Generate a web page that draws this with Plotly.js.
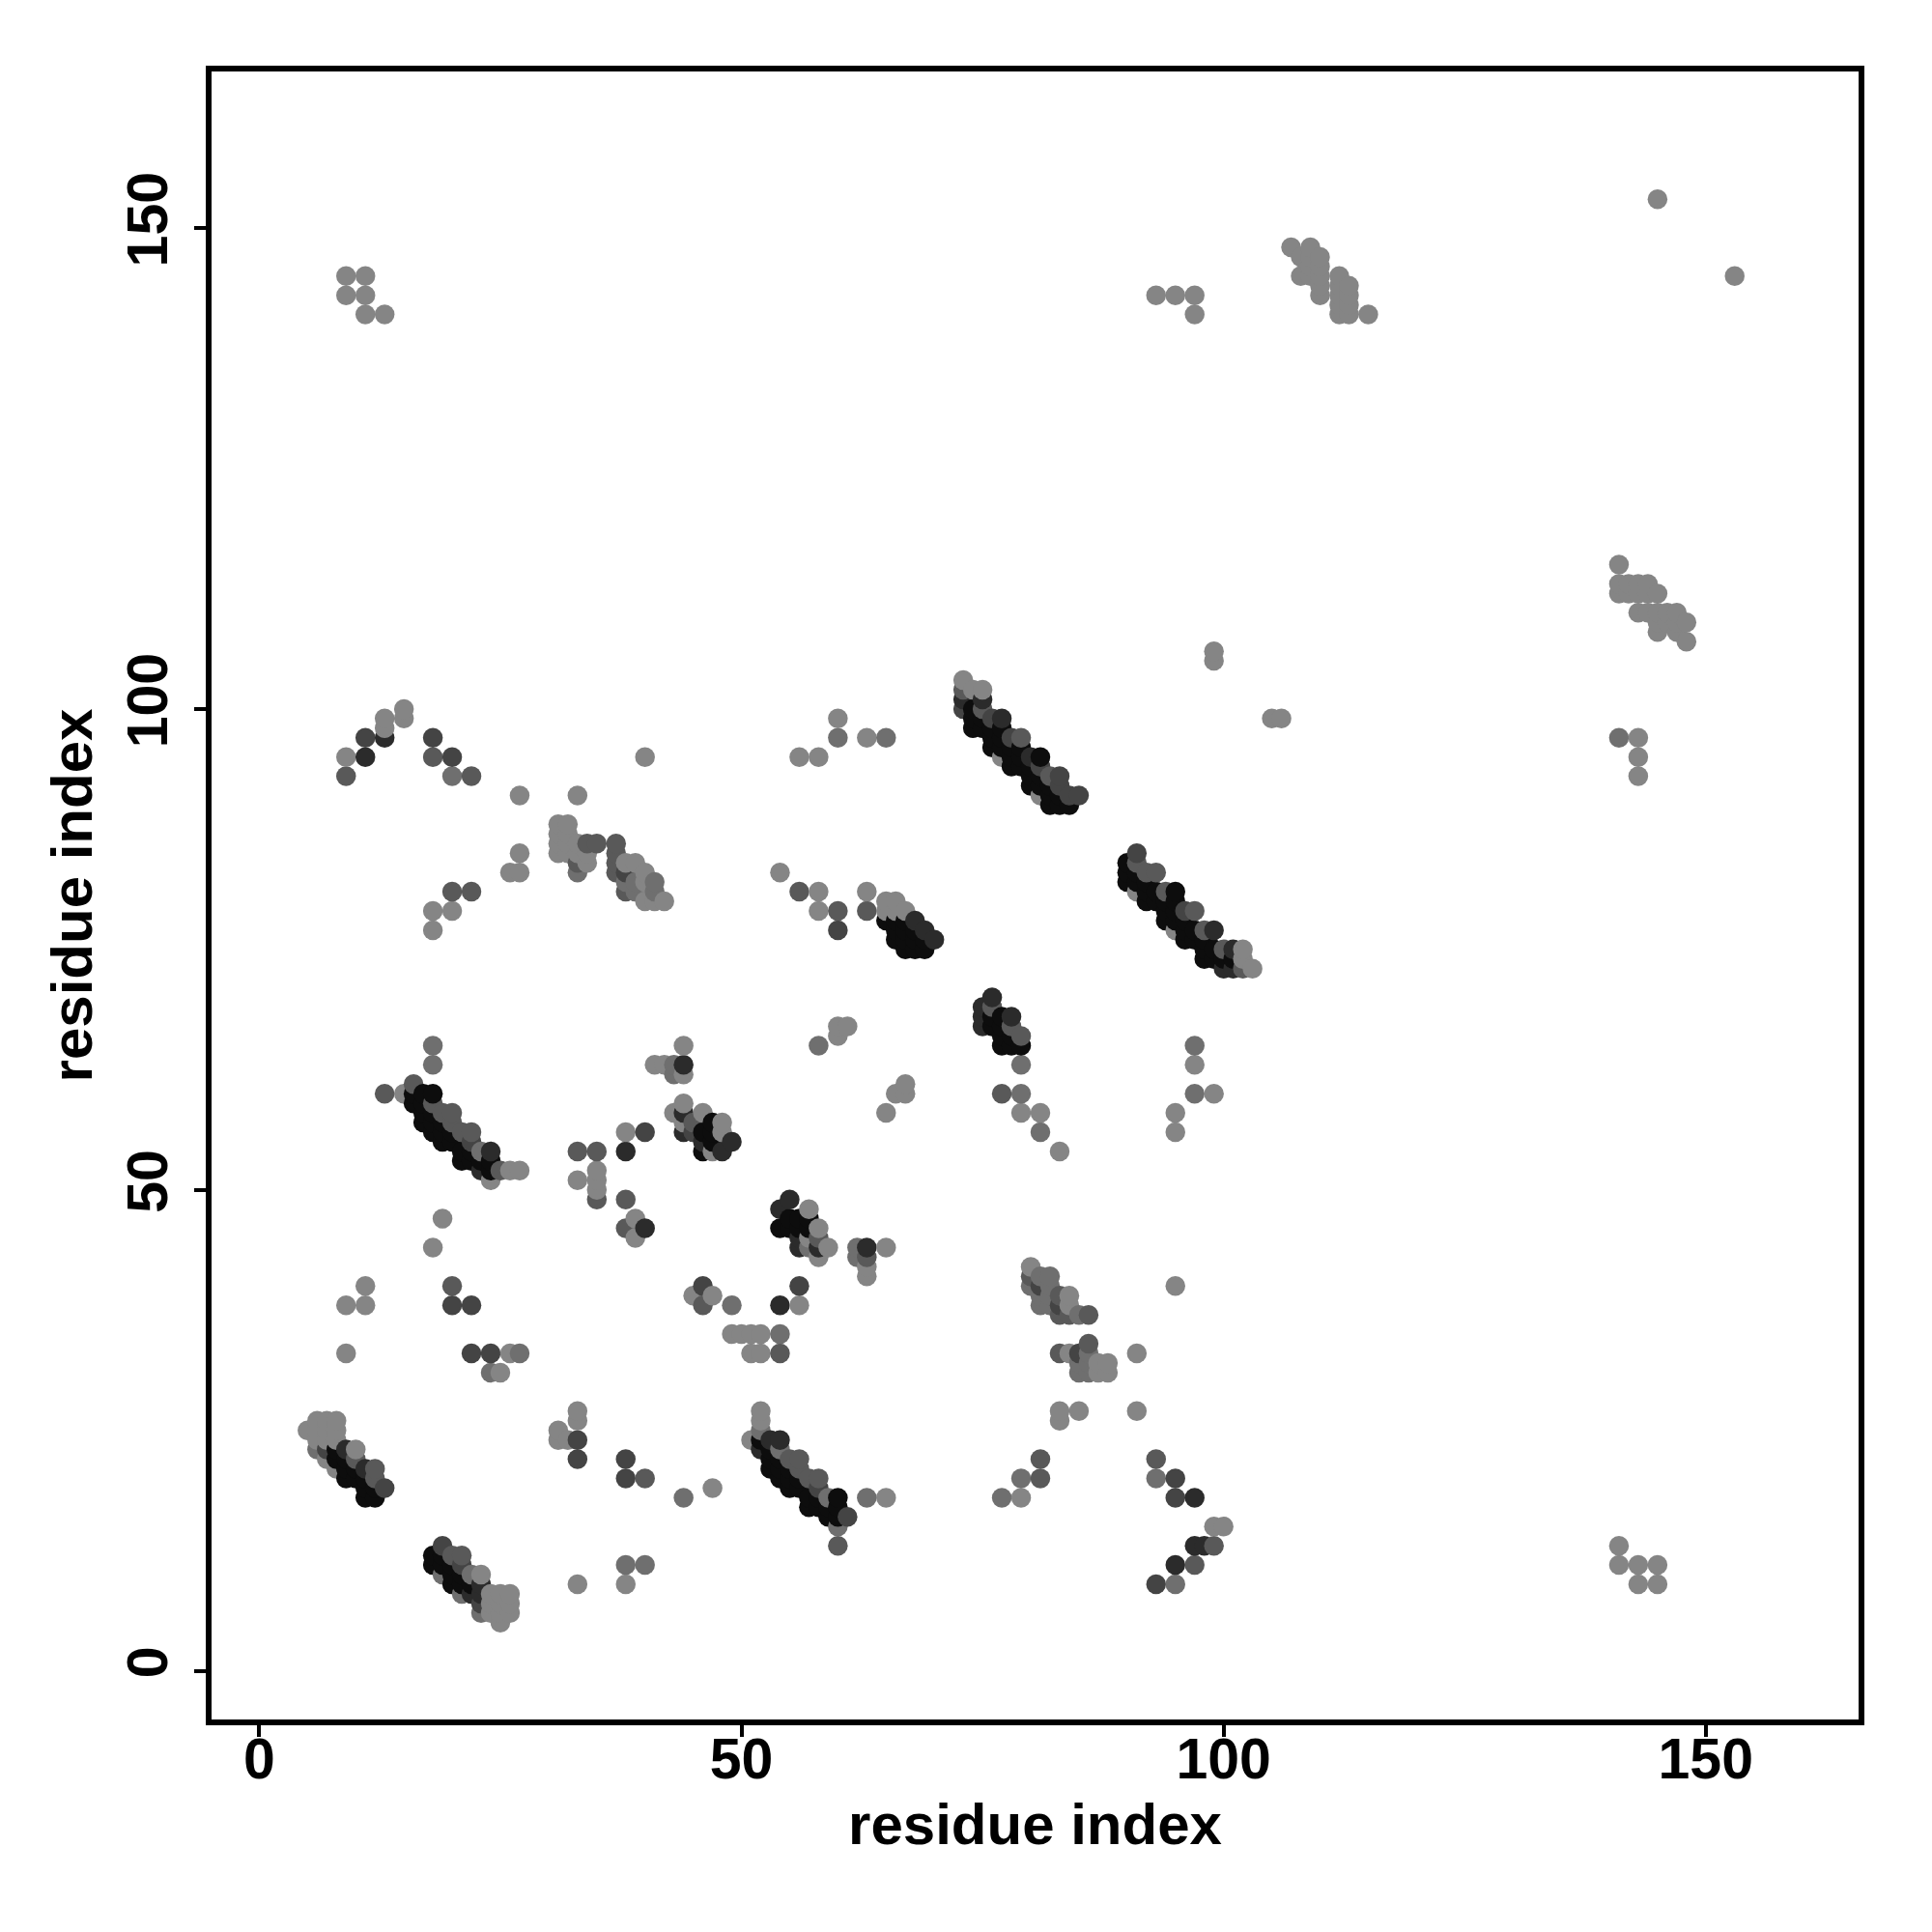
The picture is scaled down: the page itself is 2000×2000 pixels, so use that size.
<!DOCTYPE html>
<html>
<head>
<meta charset="utf-8">
<script src="https://cdn.plot.ly/plotly-3.0.1.min.js"></script>
<style>html,body{margin:0;padding:0;background:#fff}#chart{width:2000px;height:2000px}</style>
</head>
<body>
<div id="chart"></div>
<script>
const tickValues = [0, 50, 100, 150];
const axisLabel = "residue index";

const blackX = [8,8,9,9,10,9,10,11,11,12,11,12, 18,18,19,19,20,20,21,20,21,22, 52,53,53,53,54,54,54,55,55,55,56,56,57,57,58,58,59,59,60,60,60, 16,17,18,16,17,17,18,17,18,18,19,20,19,20,19,21,22,21,22,23,24,24, 74,74,74,75,75,76,76,76,77,77,78,78,78,79,79,79,80,80,80,81,81,82,82,83,82,83,84,81,77, 90,90,90,91,91,92,92,92,93,93,94,94,94,95,95,95,95,96,96,96,97,97,98,98,98,99,99,100,101, 66,67,67,68,68,69,65,66,67,66,67,68,69, 76,76,77,77,77,78,77,78,79, 55,54,55,56,56,57,57, 46,46,47,47,47];
const blackY = [23,22,22,21,21,20,20,20,19,19,18,18, 12,11,12,11,11,10,10,9,9,9, 24,23,22,21,22,21,20,21,20,19,20,19,18,17,18,17,17,16,18,17,16, 60,60,60,59,59,58,58,57,57,56,56,56,55,55,57,54,54,53,53,53,53,52, 100,99,98,99,98,98,97,96,97,96,96,95,94,96,95,94,94,93,92,93,92,92,91,91,90,90,90,95,98, 84,83,82,83,82,82,81,80,81,80,80,79,78,79,80,81,78,78,77,76,77,76,76,75,74,75,74,74,74, 77,77,76,76,75,75,78,78,78,76,75,77,76, 68,67,68,67,66,66,65,65,65, 47,46,46,47,46,47,46, 56,54,57,56,55];

const darkX = [9,11,23,22,23,53,54,52,24,23,80,77,99,101,101,100,44,44,46,48,49,44,55,54,56,58,76,75,75,75,78,68,70,13,11,38,54,63,97,98,95,97,40,73,75,69,56];
const darkY = [23,21,9,8,8,24,24,23,54,52,95,99,77,75,73,73,58,56,55,54,55,63,49,48,44,44,70,69,68,67,68,78,76,97,95,54,38,44,13,13,11,18,46,101,101,77,45];

const deepX = [7,13,19,91,61,76,78,81,83,83,84,85,96,33,33,38,38,95,95,93,60,11,18,20,20,22,22,24,40,46,45,56,22,58,23,21,73,81,85,83,38];
const deepY = [23,19,13,85,16,99,97,94,93,92,91,91,79,24,22,22,20,20,18,9,77,97,97,95,38,38,33,33,56,40,56,40,55,19,7,11,100,40,33,38,83];

const midX = [13,16,18,19,20,20,21,22,25,20,21,12,12,10,55,56,56,57,58,60,73,75,79,82,91,92,93,94,98,97,100,102,37,37,37,37,38,34,35,33,18,22,20,22,56,60,63,38,38,33,35,35,93,81,81,40,77,45,46,54,79,78,76,83,84,86,80,83,86,83,58,63,99,97,9,20];
const midY = [60,61,59,58,58,57,56,56,52,12,12,21,20,22,22,22,21,20,20,13,102,100,97,93,84,83,83,81,77,79,75,73,86,85,84,83,81,86,86,84,95,93,81,81,81,79,79,49,46,54,54,49,22,20,22,20,60,57,38,33,66,67,69,37,37,37,41,33,34,39,45,43,13,11,93,40];

const softX = [6,22,19,21,23,52,54,59,23,60,18,18,63,77,79,93,95,44,38,40,20,60,65,97,97,79,81,79,62,62,43,43,38,41,41,39,39,58,33,24,27,49,54,80,81,82,81,81,82,82,82,85,85,85,86,86,86,57,141];
const softY = [23,10,10,8,6,25,23,18,54,15,63,65,18,18,20,20,9,18,11,11,93,97,97,65,60,60,56,63,44,43,63,62,82,82,81,82,81,65,83,31,33,38,35,40,41,41,39,38,40,39,38,37,32,31,33,32,31,44,97];

const lightX = [145,153,9,11,9,11,11,13,93,95,97,97, 107,109,108,109,110,109,110,108,109,110,110,110,112,112,113,112,113,112,113,112,113,115, 141,141,142,143,144,141,142,143,144,145,143,144,145,146,147,145,146,147,148,145,147,148, 143,143,143,99,99,105,106,141,141,143,145,143,145, 9,13,13,15,15,27,33,27,26,27,18,18,20,40,56,58,60,63,54,58,58,63, 31,32,31,32,31,32,33,34,31,32,33,34,34, 38,39,40,40,41,42,40,41, 15,26,27,24, 65,66,65,66,67, 73,74,75, 23,24,25,26,24,25,26,24,25,26,25, 10,6,7,8,6,7,8,6,7,8,7,8,5,8,10,8,6, 52,52,51,65,41,42,44,43,44,44,44,46,48,48,47,60,61,60,56,57,57,58,59,58,65,63,63, 80,84,84,88,88,87,87,84, 77,81,91, 95,95,97,99,79,81,83, 95,102,102,103, 9,9,11,11,18,19,25,26,33,33,31,31,32,33,35,35,35,38,39,39, 47,45,47,49,50,51,52,51,52,56, 83,83,85,91,91,99,100,33,79, 66,67,67,65, 77,95,27,38];
const lightY = [153,145,145,145,143,143,141,141,143,143,143,141, 148,148,147,147,147,146,146,145,145,145,144,143,145,144,144,143,143,142,142,141,141,141, 115,113,113,113,113,112,112,112,112,112,110,110,110,110,110,109,109,109,109,108,108,107, 97,95,93,106,105,99,99,13,11,11,11,9,9, 95,99,98,100,99,91,91,85,83,83,79,77,79,95,95,95,99,97,83,81,79,81, 88,88,87,87,86,86,86,85,85,85,85,85,84, 84,84,83,82,82,80,80,80, 60,52,52,51, 80,80,79,79,79, 103,102,102, 10,8,8,8,7,7,7,6,6,6,5, 23,25,26,26,24,24,24,25,25,25,22,21,25,26,21,24,26, 27,26,24,18,63,63,65,58,59,57,62,58,57,56,54,66,67,67,47,48,45,46,44,43,44,42,41, 42,39,38,32,31,32,31,33, 95,91,81, 58,40,63,60,58,58,54, 77,75,74,73, 38,33,40,38,44,47,31,33,27,26,25,24,24,9,52,51,50,56,47,45, 19,39,39,35,35,35,35,33,33,38, 27,26,27,27,33,15,15,51,18, 60,60,61,58, 95,56,85,9];

const shadeSets = [
  [blackX, blackY, "#0d0d0d"],
  [darkX, darkY, "#2b2b2b"],
  [deepX, deepY, "#444444"],
  [midX, midY, "#595959"],
  [softX, softY, "#6f6f6f"],
  [lightX, lightY, "#858585"]
];

const seen = new Map();
shadeSets.forEach(([xs, ys, colour]) => {
  xs.forEach((x, i) => {
    const key = x + "," + ys[i];
    if (!seen.has(key)) seen.set(key, {x: x, y: ys[i], colour: colour});
  });
});
const pts = Array.from(seen.values()).sort((a, b) => a.x - b.x || a.y - b.y);

const fam = '"Liberation Sans", Arial, sans-serif';
const tickFont = {family: fam, size: 59, color: "#000"};
const titleFont = {family: fam, size: 60, color: "#000"};
const axisBase = {
  tickmode: "array", tickvals: tickValues, ticktext: tickValues.map(t => "<b>" + t + "</b>"),
  showgrid: false, zeroline: false, showline: true, mirror: true, linecolor: "#000", linewidth: 6,
  ticks: "outside", ticklen: 12, tickwidth: 4, tickcolor: "#000", tickfont: tickFont
};

Plotly.newPlot("chart", [{
  type: "scatter", mode: "markers",
  x: pts.map(p => p.x), y: pts.map(p => p.y),
  marker: {size: 20.5, color: pts.map(p => p.colour), line: {width: 0}}
}], {
  width: 2000, height: 2000, showlegend: false,
  paper_bgcolor: "#fff", plot_bgcolor: "#fff",
  margin: {l: 218.6, r: 76, t: 74, b: 220, pad: 0},
  xaxis: Object.assign({}, axisBase, {range: [-4.95, 165.85], ticklabelstandoff: -28,
    title: {text: "<b>" + axisLabel + "</b>", font: titleFont, standoff: 16}}),
  yaxis: Object.assign({}, axisBase, {range: [-5.06, 166.27], tickangle: -90, ticklabelstandoff: 4,
    title: {text: "<b>" + axisLabel + "</b>", font: titleFont, standoff: 7}})
}, {staticPlot: true, displayModeBar: false});
</script>
</body>
</html>
